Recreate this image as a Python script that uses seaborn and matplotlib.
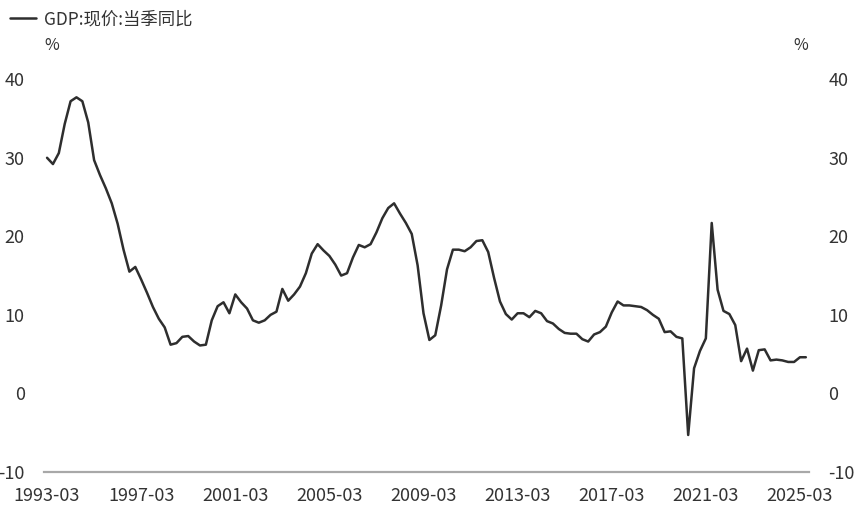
import numpy as np
import pandas as pd
import matplotlib
matplotlib.use("Agg")
import matplotlib.pyplot as plt
import seaborn as sns

# ---- data ----
series_name = "GDP:现价:当季同比"
quarters = [f"{y}-{m:02d}" for y in range(1993, 2026) for m in (3, 6, 9, 12)][:130]
gdp_yoy = [
    30.0, 29.2, 30.6, 34.3, 37.2, 37.7, 37.2, 34.5, 29.7, 27.8,
    26.1, 24.2, 21.6, 18.3, 15.5, 16.1, 14.5, 12.8, 11.0, 9.5,
    8.4, 6.2, 6.4, 7.2, 7.3, 6.6, 6.1, 6.2, 9.3, 11.1,
    11.6, 10.2, 12.6, 11.6, 10.8, 9.3, 9.0, 9.3, 10.0, 10.4,
    13.3, 11.8, 12.6, 13.6, 15.3, 17.8, 19.0, 18.2, 17.5, 16.4,
    15.0, 15.3, 17.3, 18.9, 18.6, 19.0, 20.5, 22.3, 23.6, 24.2,
    22.9, 21.7, 20.3, 16.3, 10.2, 6.8, 7.4, 11.2, 15.8, 18.3,
    18.3, 18.1, 18.6, 19.4, 19.5, 18.0, 14.7, 11.7, 10.1, 9.4,
    10.2, 10.2, 9.7, 10.5, 10.2, 9.2, 8.9, 8.2, 7.7, 7.6,
    7.6, 6.9, 6.6, 7.5, 7.8, 8.5, 10.3, 11.7, 11.2, 11.2,
    11.1, 11.0, 10.6, 10.0, 9.5, 7.8, 7.9, 7.2, 7.0, -5.3,
    3.2, 5.4, 7.0, 21.7, 13.2, 10.5, 10.1, 8.7, 4.1, 5.7,
    2.9, 5.5, 5.6, 4.2, 4.3, 4.2, 4.0, 4.0, 4.6, 4.6,
]
tick_labels = ["1993-03", "1997-03", "2001-03", "2005-03", "2009-03",
               "2013-03", "2017-03", "2021-03", "2025-03"]
y_ticks = [-10, 0, 10, 20, 30, 40]

df = pd.DataFrame({"idx": np.arange(len(gdp_yoy)), "value": gdp_yoy,
                   "series": series_name})

# ---- style ----
sns.set_theme(style="white")
plt.rcParams["font.family"] = ["Noto Sans CJK SC", "DejaVu Sans"]
text_color = "#333333"

fig = plt.figure(figsize=(8.65, 5.18), dpi=100)
ax = fig.add_axes([0.051, 0.089, 0.884, 0.758])

sns.lineplot(data=df, x="idx", y="value", hue="series",
             palette=["#2e2e2e"], linewidth=1.8, ax=ax)

ax.set_ylim(-10, 40)
ax.set_xlim(-0.5, len(gdp_yoy) - 0.5)
ax.set_yticks(y_ticks)
ax.set_yticklabels([str(v) for v in y_ticks])
tick_pos = [quarters.index(t) for t in tick_labels]
ax.set_xticks(tick_pos)
ax.set_xticklabels(tick_labels)
ax.set_xlabel("")
ax.set_ylabel("")

for s in ["top", "left", "right"]:
    ax.spines[s].set_visible(False)
ax.spines["bottom"].set_color("#a8a8a8")
ax.spines["bottom"].set_linewidth(1.6)

ax.tick_params(axis="y", which="both", left=False, right=False,
               labelleft=True, labelright=True, labelsize=13,
               labelcolor=text_color, pad=8)
ax.tick_params(axis="x", which="both", bottom=False, labelsize=13,
               labelcolor=text_color, pad=5)

# unit labels
fig.text(0.060, 0.912, "%", fontsize=11.5, color=text_color, ha="center", va="center")
fig.text(0.926, 0.912, "%", fontsize=11.5, color=text_color, ha="center", va="center")

# legend
ax.legend(loc="upper left", bbox_to_anchor=(0.0, 1.0),
          bbox_transform=fig.transFigure, frameon=False, fontsize=12.5,
          handlelength=1.5, handletextpad=0.45, borderaxespad=0.2,
          labelcolor=text_color)

fig.savefig("out.png", dpi=100)
